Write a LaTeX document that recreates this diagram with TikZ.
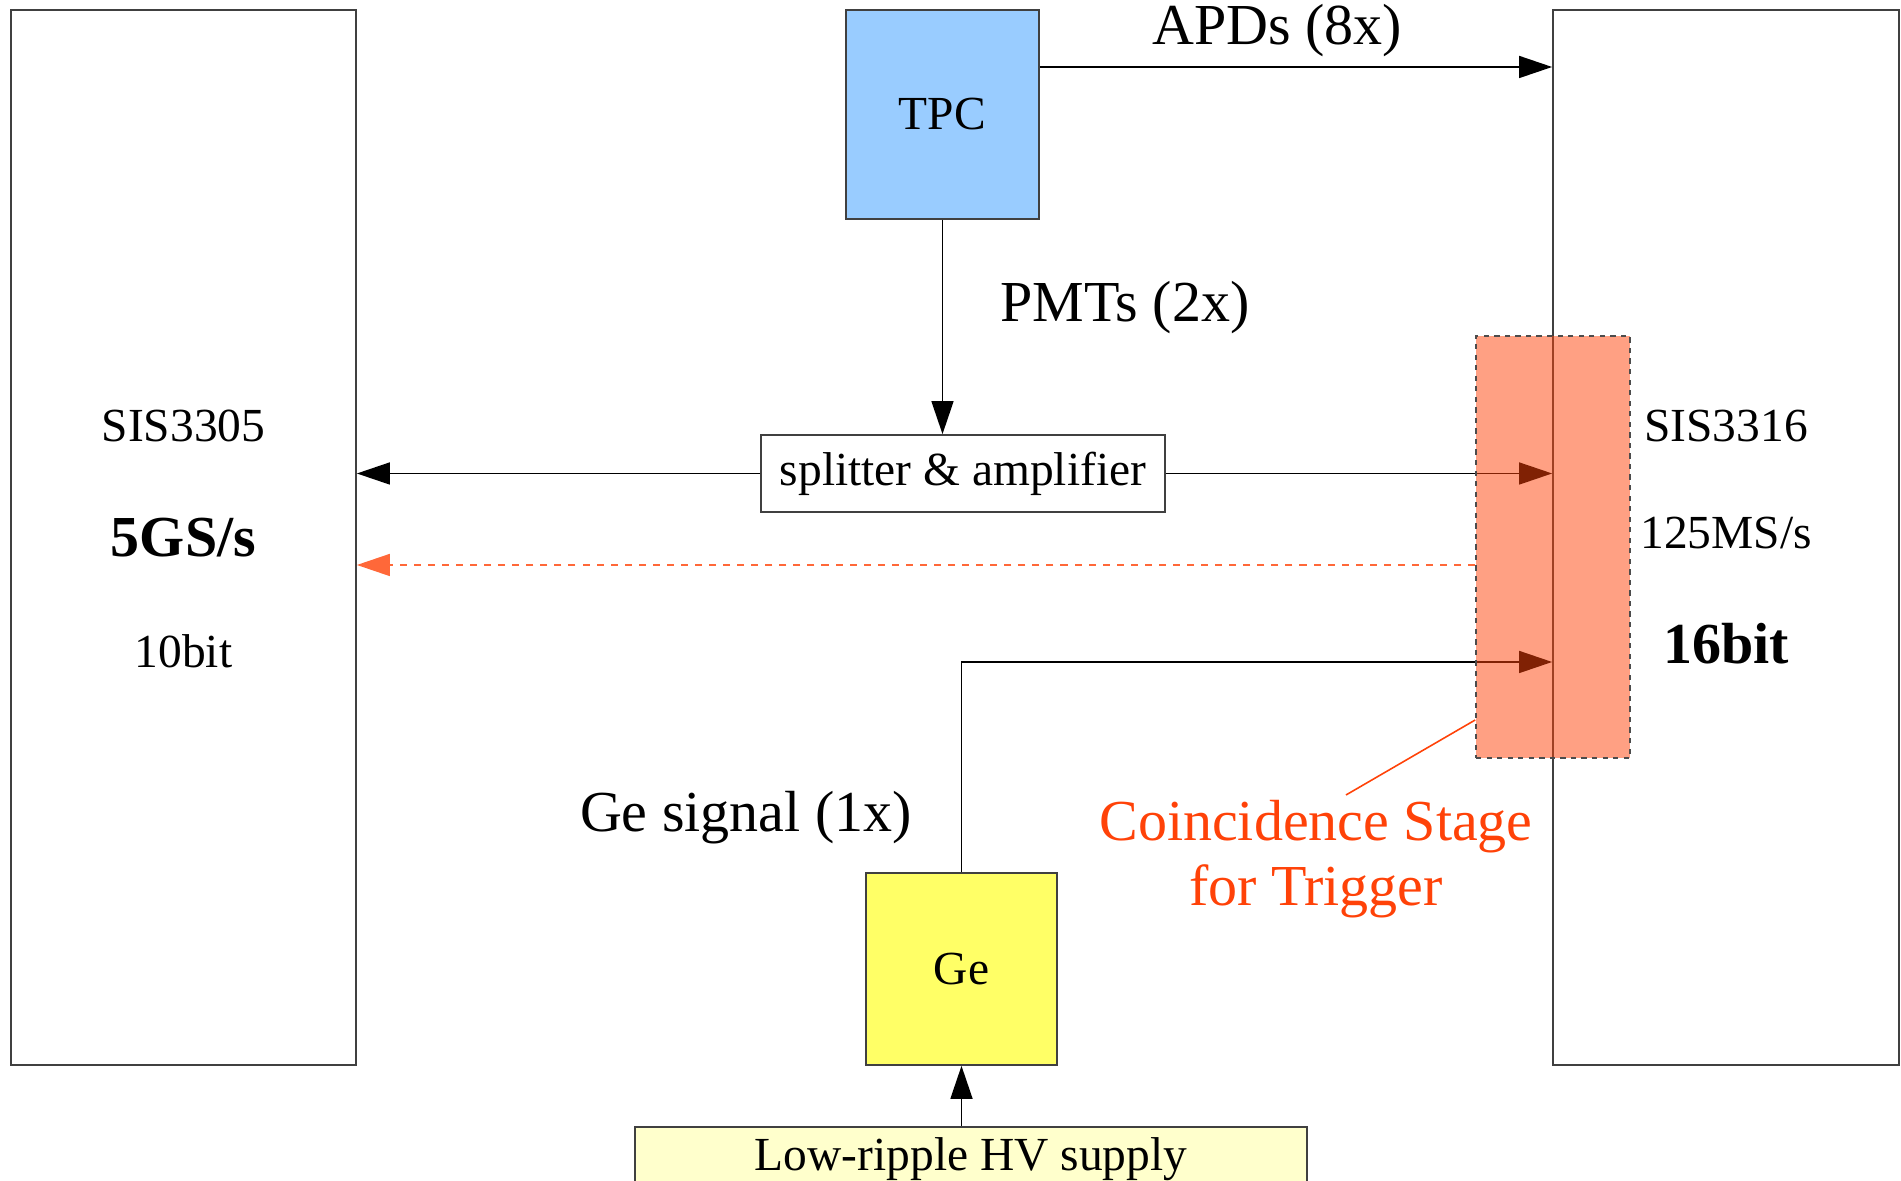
\documentclass[tikz,border=0pt]{standalone}
\usepackage{fontspec}
\setmainfont{Liberation Serif}
\usetikzlibrary{arrows.meta}
\definecolor{tpcblue}{RGB}{153,204,255}
\definecolor{geyellow}{RGB}{255,255,102}
\definecolor{hvyellow}{RGB}{255,255,204}
\definecolor{trig}{RGB}{255,66,8}

\begin{document}
\begin{tikzpicture}[
  box/.style={draw=black!75,line width=0.5pt,inner sep=0pt,font=\fontsize{13.5}{16}\selectfont},
  sig/.style={-{Triangle[length=0.33cm,width=0.22cm]},black,line width=0.45pt},
  txt/.style={font=\fontsize{13.5}{16}\selectfont},
  lbl/.style={font=\fontsize{16.5}{18.5}\selectfont},
  big/.style={font=\fontsize{16.5}{19}\selectfont\bfseries}
]
  \useasboundingbox (0,0) rectangle (19.01,11.81);

  % digitizers
  \node[box,minimum width=3.45cm,minimum height=10.55cm] (sis05) at (1.835,6.435) {};
  \node[box,minimum width=3.46cm,minimum height=10.55cm] (sis16) at (17.26,6.435) {};
  \node[txt] (n05a) at (1.835,7.55) {SIS3305};
  \node[big] (n05b) at (1.835,6.43) {5GS/s};
  \node[txt] (n05c) at (1.835,5.30) {10bit};
  \node[txt] (n16a) at (17.26,7.55) {SIS3316};
  \node[txt] (n16b) at (17.26,6.48) {125MS/s};
  \node[big] (n16c) at (17.26,5.37) {16bit};

  % detectors
  \node[box,fill=tpcblue,minimum width=1.93cm,minimum height=2.09cm] (tpc) at (9.425,10.665) {TPC};
  \node[box,fill=white,minimum width=4.04cm,minimum height=0.77cm] (split) at (9.63,7.075) {splitter \& amplifier};
  \node[box,fill=geyellow,minimum width=1.91cm,minimum height=1.92cm] (ge) at (9.615,2.12) {Ge};
  \node[box,fill=hvyellow,minimum width=6.72cm,anchor=north,inner ysep=0.08cm,
        text height=0.36cm,text depth=0.6cm] (hv) at (9.71,0.55) {Low-ripple HV supply};

  \coordinate (apd) at (0,11.14);
  \coordinate (gesig) at (0,5.19);
  \coordinate (trg) at (0,6.16);

  \draw[sig] (tpc.east |- apd) -- (sis16.west |- apd);
  \draw[sig] (tpc.south) -- (tpc.south |- split.north);
  \draw[sig] (split.west) -- (sis05.east |- split.west);
  \draw[sig] (split.east) -- (sis16.west |- split.east);
  \draw[sig] (ge.north) |- (sis16.west |- gesig);
  \draw[sig] (ge.south |- hv.north) -- (ge.south);

  \node[lbl] (lapd) at (12.77,11.50) {APDs (8x)};
  \node[lbl] (lpmt) at (11.25,8.73) {PMTs (2x)};
  \node[lbl] (lge) at (7.46,3.63) {Ge signal (1x)};

  % coincidence stage
  \node[draw=black!70,line width=0.45pt,dash pattern=on 1.5pt off 1.5pt,fill=trig,fill opacity=0.5,
        minimum width=1.54cm,minimum height=4.22cm] (coinc) at (15.53,6.34) {};
  \draw[sig,trig!80,dash pattern=on 2pt off 2pt] (coinc.west |- trg) -- (sis05.east |- trg);
  \node[lbl,text=trig,align=center] (ltrg) at (13.16,3.22) {Coincidence Stage\\for Trigger};
  \coordinate (lead) at (13.46,3.86);
  \draw[trig,line width=0.45pt] (lead) -- (coinc.west |- 0,4.61);
\end{tikzpicture}
\end{document}
